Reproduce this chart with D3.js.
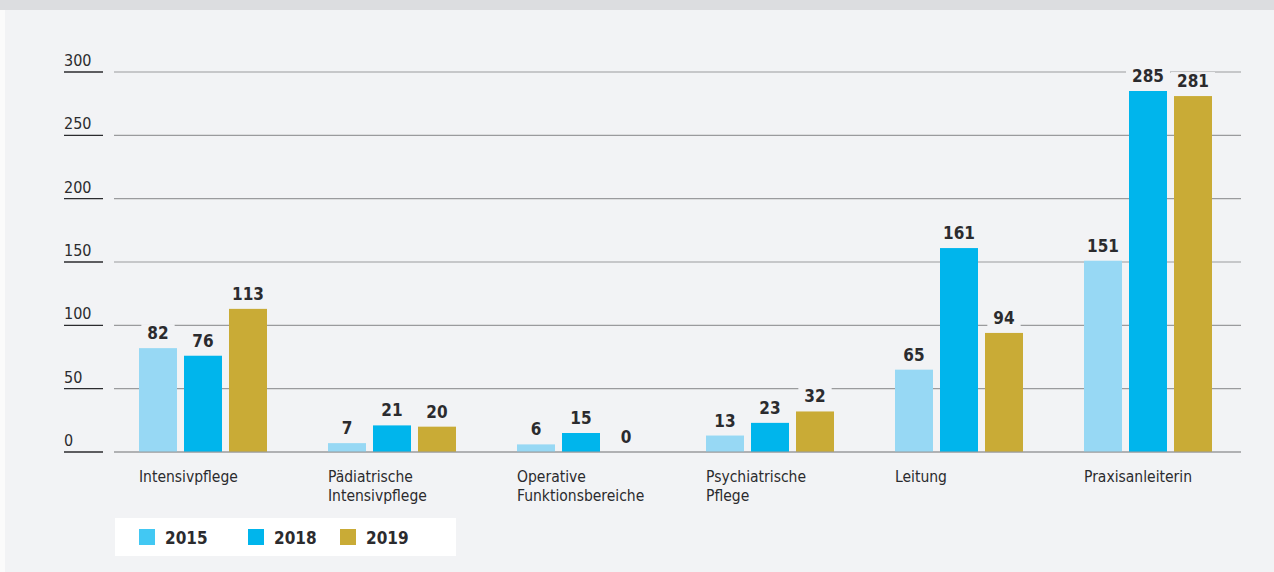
<!DOCTYPE html>
<html lang="de">
<head>
<meta charset="UTF-8">
<title>Pflegebereiche 2015 / 2018 / 2019</title>
<script src="https://d3js.org/d3.v7.min.js"></script>
<style>
  body { margin: 0; background: #fbfbfb; }
  svg { display: block; }
</style>
</head>
<body>
<div id="chart"></div>
<script>
// data
const categories = [
  ['Intensivpflege'],
  ['Pädiatrische', 'Intensivpflege'],
  ['Operative', 'Funktionsbereiche'],
  ['Psychiatrische', 'Pflege'],
  ['Leitung'],
  ['Praxisanleiterin']
];
const years = ['2015', '2018', '2019'];
const values2015 = [82, 7, 6, 13, 65, 151];
const values2018 = [76, 21, 15, 23, 161, 285];
const values2019 = [113, 20, 0, 32, 94, 281];
const yTicks = [0, 50, 100, 150, 200, 250, 300];

const series = [values2015, values2018, values2019];
const barColors = ['#97d8f4', '#00b5ec', '#c9ab36'];
const legendColors = ['#42c8f3', '#00b5ec', '#c9ab36'];

const W = 1274, H = 572;
const font = '"DejaVu Sans Condensed", "Liberation Sans Narrow", "Roboto", sans-serif';

const svg = d3.select('#chart').append('svg')
  .attr('width', W).attr('height', H);

// panel + top band
svg.append('rect').attr('x', 5).attr('y', 0).attr('width', W - 5).attr('height', H).attr('fill', '#f2f3f5');
svg.append('rect').attr('x', 0).attr('y', 0).attr('width', W).attr('height', 10).attr('fill', '#dcdde0');

const y = d3.scaleLinear().domain([0, 300]).range([452, 72]);
const x = d3.scaleBand().domain(d3.range(categories.length)).range([108.5, 1242.5]).padding(0);
const xInner = d3.scaleBand().domain(d3.range(years.length)).range([30.5, 158.5]).paddingInner(7 / 45);

// grid lines
svg.append('g').selectAll('line').data(yTicks).join('line')
  .attr('x1', 114).attr('x2', 1241)
  .attr('y1', d => y(d)).attr('y2', d => y(d))
  .attr('stroke', '#9a9b9d').attr('stroke-width', 1.2);

// y labels with underline
const yl = svg.append('g').selectAll('g').data(yTicks).join('g')
  .attr('transform', d => `translate(64,${y(d)})`);
yl.append('line').attr('x1', 0).attr('x2', 39).attr('y1', 0).attr('y2', 0)
  .attr('stroke', '#2b2b2e').attr('stroke-width', 1.4);
yl.append('text').attr('x', 0).attr('y', -6)
  .attr('font-family', font).attr('font-size', 16).attr('fill', '#2b2b2e')
  .text(d => d);

// bars
const groups = svg.append('g').selectAll('g').data(categories).join('g')
  .attr('transform', (d, i) => `translate(${x(i)},0)`);

groups.each(function (cat, i) {
  const g = d3.select(this);
  series.forEach((vals, s) => {
    const v = vals[i];
    const bx = xInner(s), bw = xInner.bandwidth();
    if (v > 0) {
      g.append('rect')
        .attr('x', bx).attr('y', y(v))
        .attr('width', bw).attr('height', y(0) - y(v))
        .attr('fill', barColors[s]);
    }
    const label = g.append('g').attr('transform', `translate(${bx + bw / 2},${y(v) - 9})`);
    const t = label.append('text')
      .attr('text-anchor', 'middle')
      .attr('font-family', font).attr('font-weight', 'bold').attr('font-size', 17)
      .attr('fill', '#2b2b2e').text(v);
    const tw = t.node().getComputedTextLength();
    label.insert('rect', 'text')
      .attr('x', -tw / 2 - 6).attr('y', -15).attr('width', tw + 12).attr('height', 19)
      .attr('fill', '#f2f3f5');
  });
  // category label
  const ct = g.append('text')
    .attr('font-family', font).attr('font-size', 15.5).attr('fill', '#2b2b2e');
  cat.forEach((line, k) => {
    ct.append('tspan').attr('x', xInner(0)).attr('y', 482 + k * 19).text(line);
  });
});

// baseline over bars
svg.append('line').attr('x1', 114).attr('x2', 1241).attr('y1', y(0)).attr('y2', y(0))
  .attr('stroke', '#9a9b9d').attr('stroke-width', 1.2);

// legend
const legend = svg.append('g');
legend.append('rect').attr('x', 115).attr('y', 518).attr('width', 341).attr('height', 38).attr('fill', '#ffffff');
const legendX = [139, 248, 340];
years.forEach((yr, i) => {
  legend.append('rect').attr('x', legendX[i]).attr('y', 529).attr('width', 16).attr('height', 16)
    .attr('fill', legendColors[i]);
  legend.append('text').attr('x', legendX[i] + 26).attr('y', 544)
    .attr('font-family', font).attr('font-weight', 'bold').attr('font-size', 17)
    .attr('fill', '#2b2b2e').text(yr);
});
</script>
</body>
</html>
